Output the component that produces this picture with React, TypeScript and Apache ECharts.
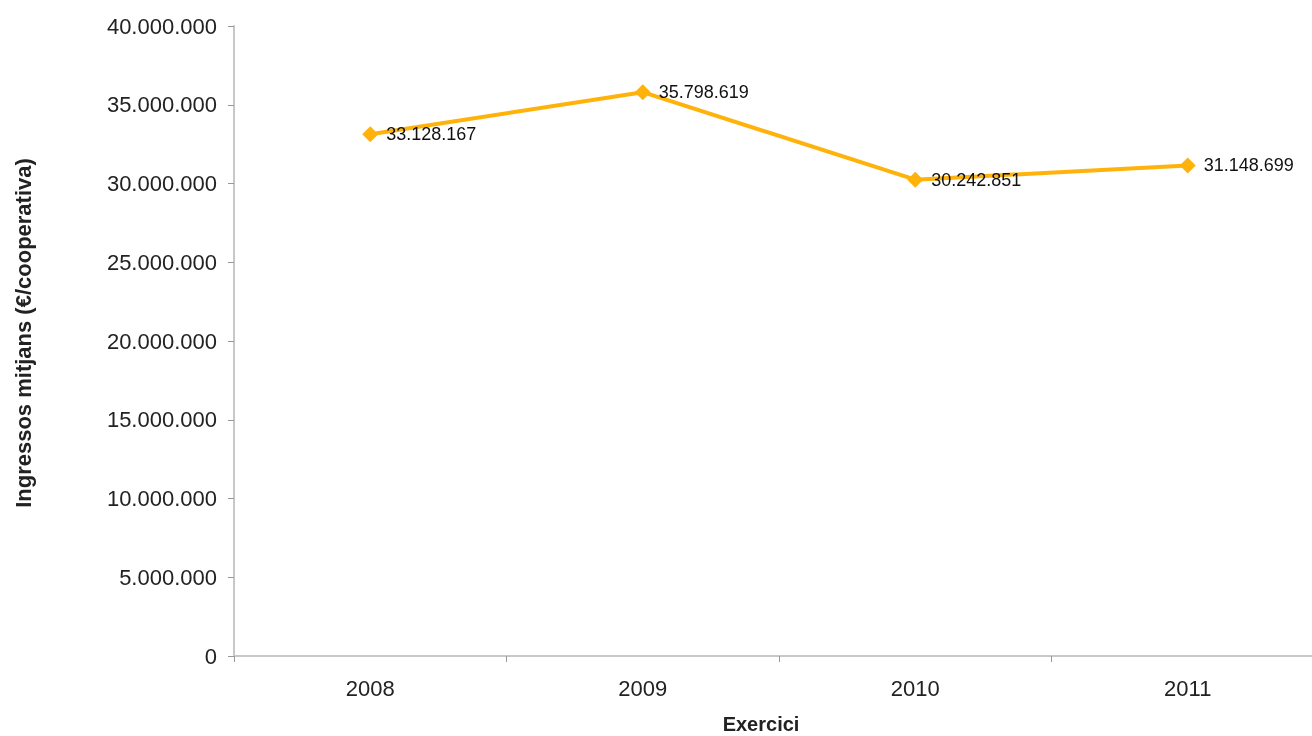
import React, { useEffect, useRef } from "react";
import * as echarts from "echarts";

const categories = ["2008", "2009", "2010", "2011"];
const values = [33128167, 35798619, 30242851, 31148699];
const yTicks = { min: 0, max: 40000000, interval: 5000000 };
const yAxisTitle = "Ingressos mitjans (€/cooperativa)";
const xAxisTitle = "Exercici";

const fmt = (v: number) => String(Math.round(v)).replace(/\B(?=(\d{3})+(?!\d))/g, ".");

export default function App() {
  const ref = useRef<HTMLDivElement>(null);
  useEffect(() => {
    if (!ref.current) return;
    document.documentElement.style.overflow = "hidden";
    document.body.style.overflow = "hidden";
    document.body.style.margin = "0";
    const chart = echarts.init(ref.current, null, { renderer: "svg" });
    const font = "Liberation Sans, Arial, sans-serif";
    chart.setOption({
      animation: false,
      textStyle: { fontFamily: font },
      grid: { left: 234, top: 26, bottom: 80, width: 1090, containLabel: false, outerBoundsMode: "none" },
      graphic: [
        {
          type: "text",
          x: 23,
          y: 333,
          rotation: Math.PI / 2,
          style: {
            text: yAxisTitle,
            fontFamily: font,
            fontSize: 22,
            fontWeight: "bold",
            fill: "#222",
            align: "center",
            verticalAlign: "middle",
          },
        },
        {
          type: "text",
          x: 761,
          y: 724,
          style: {
            text: xAxisTitle,
            fontFamily: font,
            fontSize: 20,
            fontWeight: "bold",
            fill: "#222",
            align: "center",
            verticalAlign: "middle",
          },
        },
      ],
      xAxis: {
        type: "category",
        data: categories,
        boundaryGap: true,
        axisLine: { lineStyle: { color: "#c8c8c8", width: 2 } },
        axisTick: { show: true, length: 6, lineStyle: { color: "#999" } },
        axisLabel: { color: "#222", fontSize: 22, margin: 21, fontFamily: font },
        splitLine: { show: false },
      },
      yAxis: {
        type: "value",
        min: yTicks.min,
        max: yTicks.max,
        interval: yTicks.interval,
        axisLine: { show: true, lineStyle: { color: "#c8c8c8", width: 2 } },
        axisTick: { show: true, length: 6, lineStyle: { color: "#999" } },
        axisLabel: { color: "#222", fontSize: 22, margin: 17, formatter: (v: number) => fmt(v), fontFamily: font },
        splitLine: { show: false },
      },
      series: [
        {
          type: "line",
          data: values,
          symbol: "diamond",
          symbolSize: 16,
          lineStyle: { color: "#FFB20A", width: 4 },
          itemStyle: { color: "#FFB20A" },
          label: {
            show: true,
            position: "right",
            distance: 8,
            color: "#111",
            fontSize: 18,
            fontFamily: font,
            formatter: (p: any) => fmt(p.value),
          },
        },
      ],
    });
    return () => chart.dispose();
  }, []);
  return <div ref={ref} style={{ width: 1312, height: 736, position: "fixed", left: 0, top: 0, overflow: "hidden" }} />;
}
